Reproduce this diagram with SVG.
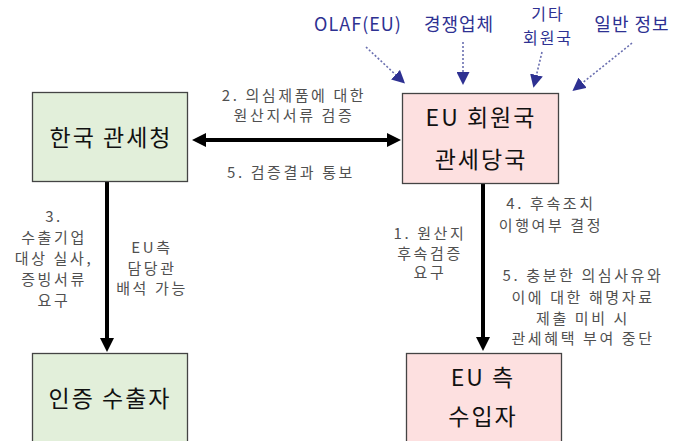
<svg xmlns="http://www.w3.org/2000/svg" width="691" height="441" viewBox="0 0 691 441">
<style>
.box{stroke:#444;stroke-width:1.3}
.g{fill:#e2efda}
.p{fill:#fde0e0}
.main{font-family:"Noto Sans CJK KR","Noto Sans",sans-serif;font-size:23px;fill:#111;text-anchor:middle;letter-spacing:2px}
.lbl{font-family:"Noto Sans CJK KR","Noto Sans",sans-serif;font-size:15px;fill:#505050;text-anchor:middle;letter-spacing:2.6px}
.blue{font-family:"Noto Sans CJK KR","Noto Sans",sans-serif;font-size:18px;fill:#2e3192;text-anchor:middle;letter-spacing:1px}
.sm{font-size:16px;letter-spacing:2px}
.arr{stroke:#000;stroke-width:4;fill:none}
.dot{stroke:#6a6fb0;stroke-width:1.6;stroke-dasharray:2 2;fill:none}
</style>
<defs>
<marker id="ah" markerUnits="userSpaceOnUse" markerWidth="14" markerHeight="14" refX="4" refY="7" orient="auto-start-reverse" viewBox="0 0 14 14">
<path d="M0,0 L14,7 L0,14 z" fill="#000"/>
</marker>
<marker id="bh" markerUnits="userSpaceOnUse" markerWidth="13" markerHeight="13" refX="2" refY="6.5" orient="auto" viewBox="0 0 13 13">
<path d="M0,0 L13,6.5 L0,13 z" fill="#2e3192"/>
</marker>
</defs>

<g id="connectors">
<line class="arr" x1="202" y1="140" x2="391" y2="140" marker-start="url(#ah)" marker-end="url(#ah)"/>
<line class="arr" x1="107" y1="182" x2="107" y2="342" marker-end="url(#ah)"/>
<line class="arr" x1="483" y1="184" x2="483" y2="341" marker-end="url(#ah)"/>
<line class="dot" x1="366" y1="47" x2="397" y2="76" marker-end="url(#bh)"/>
<line class="dot" x1="463" y1="42" x2="463" y2="74" marker-end="url(#bh)"/>
<line class="dot" x1="542" y1="52" x2="536" y2="77" marker-end="url(#bh)"/>
<line class="dot" x1="632" y1="43" x2="581" y2="84" marker-end="url(#bh)"/>
</g>

<g id="korea-customs">
<rect class="box g" x="32.5" y="92.5" width="155" height="89"/>
<text class="main" x="111" y="146">한국 관세청</text>
</g>

<g id="eu-customs">
<rect class="box p" x="402.5" y="93.5" width="156" height="90"/>
<text class="main" x="481" y="126">EU 회원국</text>
<text class="main" x="481" y="168">관세당국</text>
</g>

<g id="exporter">
<rect class="box g" x="32.5" y="353.5" width="155" height="100"/>
<text class="main" x="110" y="407">인증 수출자</text>
</g>

<g id="importer">
<rect class="box p" x="406.5" y="353.5" width="155" height="100"/>
<text class="main" x="483" y="386">EU 측</text>
<text class="main" x="483" y="425">수입자</text>
</g>

<g id="sources">
<text class="blue" x="358" y="31">OLAF(EU)</text>
<text class="blue" x="459" y="31">경쟁업체</text>
<text class="blue sm" x="548" y="20">기타</text>
<text class="blue sm" x="548" y="44">회원국</text>
<text class="blue" x="632" y="31">일반 정보</text>
</g>

<g id="labels">
<text class="lbl" x="294" y="101">2. 의심제품에 대한</text>
<text class="lbl" x="294" y="121">원산지서류 검증</text>
<text class="lbl" x="291" y="178">5. 검증결과 통보</text>
<text class="lbl" x="54" y="222">3.</text>
<text class="lbl" x="54" y="243">수출기업</text>
<text class="lbl" x="54" y="264">대상 실사,</text>
<text class="lbl" x="54" y="285">증빙서류</text>
<text class="lbl" x="54" y="306">요구</text>
<text class="lbl" x="152" y="253">EU측</text>
<text class="lbl" x="152" y="274">담당관</text>
<text class="lbl" x="152" y="294">배석 가능</text>
<text class="lbl" x="430" y="239">1. 원산지</text>
<text class="lbl" x="430" y="259">후속검증</text>
<text class="lbl" x="430" y="278">요구</text>
<text class="lbl" x="551" y="209">4. 후속조치</text>
<text class="lbl" x="551" y="231">이행여부 결정</text>
<text class="lbl" x="583" y="281">5. 충분한 의심사유와</text>
<text class="lbl" x="583" y="303">이에 대한 해명자료</text>
<text class="lbl" x="583" y="324">제출 미비 시</text>
<text class="lbl" x="583" y="344">관세혜택 부여 중단</text>
</g>
</svg>
